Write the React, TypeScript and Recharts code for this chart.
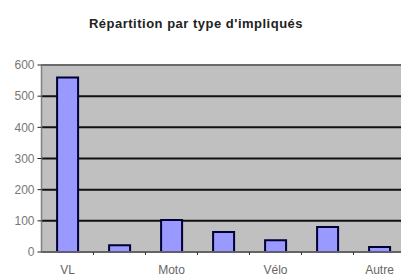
import React from 'react';
import { BarChart, Bar, XAxis, YAxis, CartesianGrid, ReferenceLine } from 'recharts';

const categories = ['VL', '', 'Moto', '', 'Vélo', '', 'Autre'];
const counts = [560, 22, 103, 64, 38, 80, 16];
const yTicks = [0, 100, 200, 300, 400, 500, 600];

const CHART_W = 410;
const PLOT_LEFT = 41.5;
const PLOT_RIGHT = 405.5;
const BAND = (PLOT_RIGHT - PLOT_LEFT) / categories.length;

const data = categories.map((name, i) => ({ name, value: counts[i] }));

const font = '"Liberation Sans", Arial, sans-serif';

// label plus a small tick mark on the boundary left of each category
function CategoryTick(props: any) {
  const { x, y, payload, index } = props;
  return (
    <g>
      {index > 0 && (
        <line x1={x - BAND / 2} y1={y} x2={x - BAND / 2} y2={y + 3} stroke="#333" strokeWidth={1} />
      )}
      <text x={x} y={y + 22} textAnchor="middle" fill="#666" fontSize={12} fontFamily={font}>
        {payload.value}
      </text>
    </g>
  );
}

export default function App() {
  return (
    <div
      style={{
        position: 'absolute',
        left: 0,
        top: 0,
        width: 401,
        height: 278,
        overflow: 'hidden',
        background: '#fff',
        fontFamily: font,
      }}
    >
      <div
        style={{
          position: 'absolute',
          top: 16,
          left: 0,
          width: 392,
          textAlign: 'center',
          fontSize: 13,
          fontWeight: 'bold',
          letterSpacing: 0.5,
          color: '#222',
        }}
      >
        Répartition par type d'impliqués
      </div>
      <BarChart
        width={CHART_W}
        height={278}
        data={data}
        margin={{ top: 65, right: CHART_W - PLOT_RIGHT, left: 0, bottom: 0 }}
        barCategoryGap="30%"
      >
        <CartesianGrid fill="#c0c0c0" vertical={false} stroke="#111" strokeWidth={2} />
        <ReferenceLine y={600} stroke="#888" strokeWidth={1.5} />
        <XAxis
          dataKey="name"
          interval={0}
          height={26}
          tickSize={0}
          tickMargin={0}
          tickLine={false}
          axisLine={{ stroke: '#808080', strokeWidth: 1.5 }}
          tick={<CategoryTick />}
        />
        <YAxis
          width={PLOT_LEFT}
          domain={[0, 600]}
          ticks={yTicks}
          interval={0}
          tickSize={4}
          tickMargin={3}
          tick={{ fill: '#777', fontSize: 12, fontFamily: font }}
          tickLine={{ stroke: '#222' }}
          axisLine={{ stroke: '#808080', strokeWidth: 1.5 }}
        />
        <Bar dataKey="value" fill="#9999ff" stroke="#000033" strokeWidth={2} isAnimationActive={false} />
      </BarChart>
    </div>
  );
}
